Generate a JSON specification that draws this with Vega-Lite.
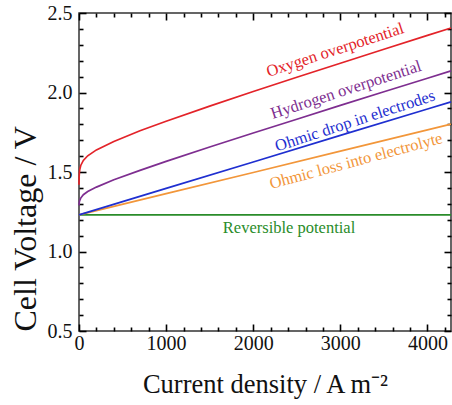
{
  "$schema": "https://vega.github.io/schema/vega-lite/v6.json",
  "width": 372,
  "height": 318,
  "autosize": {"type": "none"},
  "padding": {"left": 79, "top": 13, "right": 1, "bottom": 74},
  "background": "white",
  "config": {
    "view": {"stroke": "#333333", "strokeWidth": 1.5},
    "axis": {"domain": false, "grid": false, "tickWidth": 1.6, "labelFontSize": 20, "labelColor": "#111111", "titleFontWeight": "normal", "titleColor": "#111111"}
  },
  "datasets": {
    "curves": [
      {"j": 0, "V": 1.23, "series": "rev"}, {"j": 4270, "V": 1.23, "series": "rev"},
      {"j": 0, "V": 1.23, "series": "ohmloss"}, {"j": 1000, "V": 1.364, "series": "ohmloss"}, {"j": 2000, "V": 1.497, "series": "ohmloss"}, {"j": 3000, "V": 1.631, "series": "ohmloss"}, {"j": 4000, "V": 1.765, "series": "ohmloss"}, {"j": 4270, "V": 1.801, "series": "ohmloss"},
      {"j": 0, "V": 1.23, "series": "ohmdrop"}, {"j": 1000, "V": 1.397, "series": "ohmdrop"}, {"j": 2000, "V": 1.563, "series": "ohmdrop"}, {"j": 3000, "V": 1.73, "series": "ohmdrop"}, {"j": 4000, "V": 1.896, "series": "ohmdrop"}, {"j": 4270, "V": 1.941, "series": "ohmdrop"},
      {"j": 0, "V": 1.29, "series": "hyd"}, {"j": 1, "V": 1.297, "series": "hyd"}, {"j": 2, "V": 1.305, "series": "hyd"}, {"j": 5, "V": 1.315, "series": "hyd"}, {"j": 10, "V": 1.323, "series": "hyd"}, {"j": 20, "V": 1.336, "series": "hyd"}, {"j": 50, "V": 1.357, "series": "hyd"}, {"j": 100, "V": 1.377, "series": "hyd"}, {"j": 200, "V": 1.405, "series": "hyd"}, {"j": 400, "V": 1.451, "series": "hyd"}, {"j": 700, "V": 1.51, "series": "hyd"}, {"j": 1000, "V": 1.567, "series": "hyd"}, {"j": 1500, "V": 1.657, "series": "hyd"}, {"j": 2000, "V": 1.745, "series": "hyd"}, {"j": 2500, "V": 1.832, "series": "hyd"}, {"j": 3000, "V": 1.919, "series": "hyd"}, {"j": 3500, "V": 2.005, "series": "hyd"}, {"j": 4000, "V": 2.09, "series": "hyd"}, {"j": 4270, "V": 2.136, "series": "hyd"},
      {"j": 0, "V": 1.42, "series": "oxy"}, {"j": 1, "V": 1.45, "series": "oxy"}, {"j": 2, "V": 1.471, "series": "oxy"}, {"j": 5, "V": 1.498, "series": "oxy"}, {"j": 10, "V": 1.519, "series": "oxy"}, {"j": 20, "V": 1.541, "series": "oxy"}, {"j": 50, "V": 1.573, "series": "oxy"}, {"j": 100, "V": 1.602, "series": "oxy"}, {"j": 200, "V": 1.639, "series": "oxy"}, {"j": 400, "V": 1.692, "series": "oxy"}, {"j": 700, "V": 1.759, "series": "oxy"}, {"j": 1000, "V": 1.819, "series": "oxy"}, {"j": 1500, "V": 1.914, "series": "oxy"}, {"j": 2000, "V": 2.006, "series": "oxy"}, {"j": 2500, "V": 2.096, "series": "oxy"}, {"j": 3000, "V": 2.184, "series": "oxy"}, {"j": 3500, "V": 2.272, "series": "oxy"}, {"j": 4000, "V": 2.359, "series": "oxy"}, {"j": 4270, "V": 2.406, "series": "oxy"}
    ],
    "steep": [
      {"label": "Oxygen overpotential", "series": "oxy", "j": 2939, "V": 2.267},
      {"label": "Hydrogen overpotential", "series": "hyd", "j": 3065, "V": 2.016},
      {"label": "Ohmic drop in electrodes", "series": "ohmdrop", "j": 3169, "V": 1.821}
    ],
    "shallow": [
      {"label": "Ohmic loss into electrolyte", "series": "ohmloss", "j": 3180, "V": 1.569}
    ],
    "flat": [
      {"label": "Reversible potential", "series": "rev", "j": 2411, "V": 1.15}
    ]
  },
  "resolve": {"axis": {"x": "independent", "y": "independent"}},
  "layer": [
    {
      "data": {"name": "curves"},
      "mark": {"type": "line", "strokeWidth": 1.7},
      "encoding": {
        "x": {"field": "j", "type": "quantitative", "scale": {"domain": [0, 4270], "nice": false, "zero": false},
              "axis": {"orient": "bottom", "values": [0, 1000, 2000, 3000, 4000], "format": "d", "offset": -7, "tickSize": 7, "tickColor": "black", "labelPadding": 2, "labelFlush": false, "labelFont": "Liberation Serif", "title": "Current density / A m⁻²", "titleFont": "Liberation Serif", "titleFontSize": 26.5, "titlePadding": 18}},
        "y": {"field": "V", "type": "quantitative", "scale": {"domain": [0.5, 2.5], "nice": false, "zero": false},
              "axis": {"orient": "left", "values": [0.5, 1.0, 1.5, 2.0, 2.5], "format": ".1f", "tickSize": -7, "tickColor": "black", "labelPadding": 14, "labelFont": "Liberation Serif", "title": "Cell Voltage / V", "titleFont": "Liberation Serif", "titleFontSize": 32, "titleAnchor": "start", "titlePadding": 5}},
        "color": {"field": "series", "type": "nominal", "legend": null,
                  "scale": {"domain": ["rev", "ohmloss", "ohmdrop", "hyd", "oxy"], "range": ["#2a8c2a", "#f2963a", "#1f2fd0", "#7e2e90", "#e32329"]}},
        "detail": {"field": "series"}
      }
    },
    {
      "data": {"name": "steep"},
      "mark": {"type": "text", "angle": 342, "fontSize": 16.5, "font": "Liberation Serif"},
      "encoding": {
        "x": {"field": "j", "type": "quantitative", "axis": {"orient": "bottom", "values": [200, 400, 600, 800, 1200, 1400, 1600, 1800, 2200, 2400, 2600, 2800, 3200, 3400, 3600, 3800, 4200], "offset": -4, "tickSize": 4, "tickColor": "black", "labels": false, "title": null}},
        "y": {"field": "V", "type": "quantitative", "axis": {"orient": "left", "values": [0.6, 0.7, 0.8, 0.9, 1.1, 1.2, 1.3, 1.4, 1.6, 1.7, 1.8, 1.9, 2.1, 2.2, 2.3, 2.4], "tickSize": -4, "tickColor": "black", "labels": false, "title": null}},
        "text": {"field": "label"},
        "color": {"field": "series", "type": "nominal", "legend": null}
      }
    },
    {
      "data": {"name": "shallow"},
      "mark": {"type": "text", "angle": 345, "fontSize": 16.5, "font": "Liberation Serif"},
      "encoding": {
        "x": {"field": "j", "type": "quantitative", "axis": {"orient": "top", "values": [0, 1000, 2000, 3000, 4000], "offset": -7, "tickSize": 7, "tickColor": "black", "labels": false, "title": null}},
        "y": {"field": "V", "type": "quantitative", "axis": {"orient": "right", "values": [0.5, 1.0, 1.5, 2.0, 2.5], "tickSize": -7, "tickColor": "black", "labels": false, "title": null}},
        "text": {"field": "label"},
        "color": {"field": "series", "type": "nominal", "legend": null}
      }
    },
    {
      "data": {"name": "flat"},
      "mark": {"type": "text", "angle": 0, "fontSize": 16.5, "font": "Liberation Serif"},
      "encoding": {
        "x": {"field": "j", "type": "quantitative", "axis": {"orient": "top", "values": [200, 400, 600, 800, 1200, 1400, 1600, 1800, 2200, 2400, 2600, 2800, 3200, 3400, 3600, 3800, 4200], "offset": -4, "tickSize": 4, "tickColor": "black", "labels": false, "title": null}},
        "y": {"field": "V", "type": "quantitative", "axis": {"orient": "right", "values": [0.6, 0.7, 0.8, 0.9, 1.1, 1.2, 1.3, 1.4, 1.6, 1.7, 1.8, 1.9, 2.1, 2.2, 2.3, 2.4], "tickSize": -4, "tickColor": "black", "labels": false, "title": null}},
        "text": {"field": "label"},
        "color": {"field": "series", "type": "nominal", "legend": null}
      }
    }
  ]
}
